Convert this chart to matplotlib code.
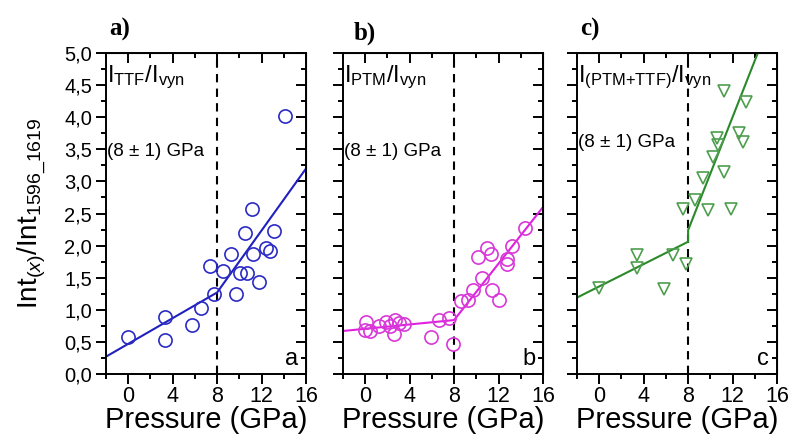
import matplotlib
matplotlib.use('Agg')
import matplotlib.pyplot as plt
from matplotlib.ticker import MultipleLocator, FuncFormatter

plt.rcParams['font.family'] = ['Liberation Sans', 'DejaVu Sans']
plt.rcParams['mathtext.fontset'] = 'custom'
plt.rcParams['mathtext.rm'] = 'Liberation Sans'
plt.rcParams['mathtext.it'] = 'Liberation Sans:italic'
plt.rcParams['mathtext.bf'] = 'Liberation Sans:bold'

# panel a: TTF / vyn
ttf_p = [0.0, 3.33, 3.3, 5.74, 6.58, 7.33, 7.7, 8.5, 9.28, 9.67, 10.1, 10.48,
         10.72, 11.23, 11.77, 12.4, 12.8, 13.1, 11.17, 14.08]
ttf_r = [0.57, 0.89, 0.53, 0.76, 1.03, 1.68, 1.25, 1.61, 1.87, 1.25, 1.57, 2.19,
         1.58, 1.87, 1.44, 1.97, 1.92, 2.23, 2.57, 4.02]
fit_a_x = [-2, 8, 16]
fit_a_y = [0.27, 1.27, 3.2]

# panel b: PTM / vyn
ptm_p = [0.03, 0.0, 0.45, 1.27, 1.9, 2.27, 2.64, 2.6, 3.03, 3.48, 5.88, 6.64, 7.5,
         7.94, 8.64, 9.27, 9.73, 10.15, 10.55, 10.94, 11.3, 11.42, 12.03, 12.76,
         12.8, 13.2, 14.4]
ptm_r = [0.81, 0.69, 0.67, 0.75, 0.81, 0.75, 0.84, 0.62, 0.79, 0.78, 0.58, 0.84, 0.87,
         0.47, 1.14, 1.16, 1.31, 1.82, 1.49, 1.97, 1.87, 1.31, 1.16, 1.79,
         1.71, 1.99, 2.28]
fit_b_x = [-2, 8, 16]
fit_b_y = [0.67, 0.84, 2.6]

# panel c: (PTM+TTF) / vyn
mix_p = [0.0, 3.42, 3.36, 5.85, 6.67, 7.82, 7.52, 8.58, 9.79, 11.9, 9.33, 11.2,
         10.24, 10.7, 10.6, 12.57, 12.9, 13.2, 11.2]
mix_r = [1.34, 1.85, 1.65, 1.33, 1.86, 1.71, 2.57, 2.71, 2.55, 2.57, 3.05, 3.15,
         3.38, 3.56, 3.68, 3.75, 3.62, 4.24, 4.41]
fit_c_x = [-2, 8, 8, 14.27]
fit_c_y = [1.19, 2.06, 2.24, 5.0]

xticks = [0, 4, 8, 12, 16]

fig = plt.figure(figsize=(7.92, 4.46), dpi=100)
lefts = [106 / 792, 343 / 792, 577 / 792]
bottom = 1 - 374 / 446
height = 321 / 446
width = 200 / 792

panels = [
    (ttf_p, ttf_r, fit_a_x, fit_a_y, '#2b2bc4', '#2020c0', 'o', 9.5,
     r'$\mathrm{I}_{\mathrm{TTF}}/\mathrm{I}_{\mathrm{vyn}}$', 'a', 'a)'),
    (ptm_p, ptm_r, fit_b_x, fit_b_y, '#d838d8', '#e020e0', 'o', 9.5,
     r'$\mathrm{I}_{\mathrm{PTM}}/\mathrm{I}_{\mathrm{vyn}}$', 'b', 'b)'),
    (mix_p, mix_r, fit_c_x, fit_c_y, '#4e9e4e', '#2a8a2a', 'v', 9,
     r'$\mathrm{I}_{(\mathrm{PTM{+}TTF})}/\mathrm{I}_{\mathrm{vyn}}$', 'c', 'c)'),
]

for i, (px, py, fx, fy, mcol, lcol, mk, ms, head, corner, tag) in enumerate(panels):
    ax = fig.add_axes([lefts[i], bottom, width, height])
    ax.plot(fx, fy, color=lcol, lw=1.5, zorder=2)
    ax.plot(px, py, ls='none', marker=mk, ms=ms, mfc='none', mec=mcol, mew=1.2, zorder=3)
    ax.axvline(8, color='black', ls=(0, (4, 3)), lw=1.5, zorder=1)

    ax.set_xlim(-2, 16)
    ax.set_ylim(0, 5)
    ax.set_xticks(xticks)
    ax.xaxis.set_minor_locator(MultipleLocator(2))
    ax.yaxis.set_major_locator(MultipleLocator(0.5))
    ax.yaxis.set_minor_locator(MultipleLocator(0.25))
    for s in ax.spines.values():
        s.set_linewidth(1.4)
    ax.tick_params(which='both', direction='out', top=False, right=False, width=1.4)
    ax.tick_params(which='major', length=7)
    ax.tick_params(which='minor', length=3.5)
    ax.tick_params(axis='x', labelsize=15.5, pad=2)
    ax.tick_params(axis='y', labelsize=14.5, pad=3)
    # inward mirrored ticks on top and right
    sec = ax.secondary_xaxis('top')
    sec.set_xticks(xticks)
    sec.xaxis.set_minor_locator(MultipleLocator(2))
    sec.tick_params(which='both', direction='in', labeltop=False, width=1.4)
    sec.tick_params(which='major', length=7)
    sec.tick_params(which='minor', length=3.5)
    secy = ax.secondary_yaxis('right')
    secy.yaxis.set_major_locator(MultipleLocator(0.5))
    secy.yaxis.set_minor_locator(MultipleLocator(0.25))
    secy.tick_params(which='both', direction='in', labelright=False, width=1.4)
    secy.tick_params(which='major', length=7)
    secy.tick_params(which='minor', length=3.5)

    if i == 0:
        ax.yaxis.set_major_formatter(FuncFormatter(lambda v, p: f'{v:.1f}'.replace('.', ',')))
        ax.set_ylabel(r'$\mathrm{Int}_{(x)}/\mathrm{Int}_{1596\_1619}$', fontsize=20, labelpad=12)
    else:
        ax.tick_params(axis='y', labelleft=False)
    ax.set_xlabel('Pressure (GPa)', fontsize=21, labelpad=-1)

    ax.text(-1.95, 4.62, head, fontsize=17, va='center', ha='left')
    ax.text(-1.95, 3.6 if i == 2 else 3.46, '(8 ± 1) GPa', fontsize=13.5, va='center', ha='left')
    ax.text(15.3, 0.06, corner, fontsize=17, va='bottom', ha='right')
    fig.text(lefts[i] + 0.004 + (0.01 if i == 1 else 0), 0.935 - (0.01 if i == 1 else 0), tag,
             fontsize=18, fontweight='bold', family='Liberation Serif', ha='left', va='center')

fig.savefig('out.png', dpi=100)
